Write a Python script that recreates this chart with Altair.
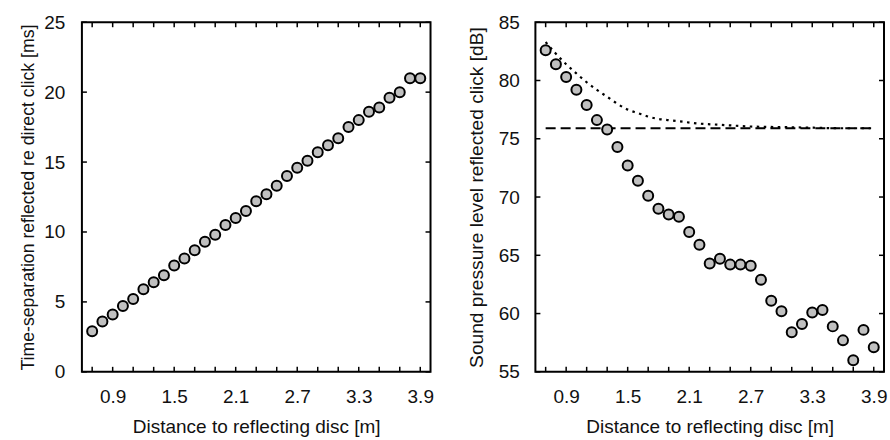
import altair as alt
import pandas as pd

# Measurement distances (m)
distance = [0.7, 0.8, 0.9, 1.0, 1.1, 1.2, 1.3, 1.4, 1.5, 1.6, 1.7, 1.8, 1.9, 2.0, 2.1,
            2.2, 2.3, 2.4, 2.5, 2.6, 2.7, 2.8, 2.9, 3.0, 3.1, 3.2, 3.3, 3.4, 3.5, 3.6,
            3.7, 3.8, 3.9]

# Time separation between reflected and direct click (ms)
time_sep = [2.9, 3.6, 4.1, 4.7, 5.2, 5.9, 6.4, 6.9, 7.6, 8.1, 8.7, 9.3, 9.8, 10.5, 11.0,
            11.5, 12.2, 12.7, 13.3, 14.0, 14.6, 15.1, 15.7, 16.2, 16.7, 17.5, 18.0, 18.6,
            18.9, 19.6, 20.0, 21.0, 21.0]

# Sound pressure level of reflected click (dB)
spl = [82.6, 81.4, 80.3, 79.2, 77.9, 76.6, 75.8, 74.3, 72.7, 71.4, 70.1, 69.0, 68.5, 68.3,
       67.0, 65.9, 64.3, 64.7, 64.2, 64.2, 64.1, 62.9, 61.1, 60.2, 58.4, 59.1, 60.1, 60.3,
       58.9, 57.7, 56.0, 58.6, 57.1]

# Dotted reference curve
curve_x = [0.7, 0.8, 0.9, 1.0, 1.1, 1.2, 1.3, 1.4, 1.5, 1.6, 1.7, 1.8, 1.9, 2.0, 2.2,
           2.4, 2.7, 3.0, 3.3, 3.6, 3.9]
curve_y = [83.3, 82.3, 81.4, 80.6, 79.85, 79.2, 78.6, 78.0, 77.5, 77.2, 76.9, 76.7, 76.6,
           76.5, 76.3, 76.2, 76.05, 76.0, 75.95, 75.9, 75.9]

# Dashed threshold line
thresh_x = [0.7, 3.9]
thresh_y = [75.9, 75.9]

# Axis ticks and labels
x_ticks = [0.7, 0.9, 1.1, 1.3, 1.5, 1.7, 1.9, 2.1, 2.3, 2.5, 2.7, 2.9, 3.1, 3.3, 3.5, 3.7, 3.9]
x_labels = [0.9, 1.5, 2.1, 2.7, 3.3, 3.9]
y_ticks_left = [0, 5, 10, 15, 20, 25]
y_ticks_right = [55, 60, 65, 70, 75, 80, 85]

X_DOMAIN = [0.6, 4.0]
W, H = 349, 350
TICK = 5
FONT = "Liberation Sans"
INK = "#111111"


def frame_ticks(xscale, yscale, yvals):
    xt = pd.DataFrame({"x": x_ticks})
    yt = pd.DataFrame({"y": yvals})
    rule = alt.Chart().mark_rule(color="black", strokeWidth=1.5)
    bottom = rule.encode(x=alt.X("x:Q", scale=xscale), y=alt.value(H), y2=alt.value(H - TICK)).properties(data=xt)
    top = rule.encode(x=alt.X("x:Q", scale=xscale), y=alt.value(0), y2=alt.value(TICK)).properties(data=xt)
    left = rule.encode(y=alt.Y("y:Q", scale=yscale), x=alt.value(0), x2=alt.value(TICK)).properties(data=yt)
    right = rule.encode(y=alt.Y("y:Q", scale=yscale), x=alt.value(W), x2=alt.value(W - TICK)).properties(data=yt)
    return [bottom, top, left, right]


xaxis = alt.Axis(values=x_labels, format=".1f", title="Distance to reflecting disc [m]",
                 grid=False, domain=False, ticks=False, tickSize=0,
                 labelPadding=16, titlePadding=11, titleFontSize=19)

# Left panel
xs = alt.Scale(domain=X_DOMAIN, nice=False, zero=False)
ys_l = alt.Scale(domain=[0, 25], nice=False)
left_df = pd.DataFrame({"distance": distance, "time_sep": time_sep})
left_pts = alt.Chart(left_df).mark_circle(
    size=100, fill="#c0c0c0", stroke="black", strokeWidth=2, opacity=1
).encode(
    x=alt.X("distance:Q", scale=xs, axis=xaxis),
    y=alt.Y("time_sep:Q", scale=ys_l,
            axis=alt.Axis(values=y_ticks_left, title="Time-separation reflected re direct click [ms]",
                          grid=False, domain=False, ticks=False, tickSize=0,
                          labelPadding=17, titlePadding=6, titleFontSize=17.7)),
)
left = alt.layer(left_pts, *frame_ticks(xs, ys_l, y_ticks_left)).properties(width=W, height=H)

# Right panel
ys_r = alt.Scale(domain=[55, 85], nice=False, zero=False)
right_df = pd.DataFrame({"distance": distance, "spl": spl})
curve_df = pd.DataFrame({"distance": curve_x, "spl": curve_y})
thresh_df = pd.DataFrame({"distance": thresh_x, "spl": thresh_y})
yaxis_r = alt.Axis(values=y_ticks_right, title="Sound pressure level reflected click [dB]",
                   grid=False, domain=False, ticks=False, tickSize=0,
                   labelPadding=16, titlePadding=12, titleFontSize=19.2)

dashed = alt.Chart(thresh_df).mark_line(color="black", strokeWidth=2, strokeDash=[10, 5]).encode(
    x=alt.X("distance:Q", scale=xs, axis=xaxis),
    y=alt.Y("spl:Q", scale=ys_r, axis=yaxis_r),
)
dotted = alt.Chart(curve_df).mark_line(color="black", strokeWidth=2.2, strokeDash=[2.5, 4.5],
                                       interpolate="monotone").encode(
    x=alt.X("distance:Q", scale=xs),
    y=alt.Y("spl:Q", scale=ys_r),
)
right_pts = alt.Chart(right_df).mark_circle(
    size=100, fill="#c0c0c0", stroke="black", strokeWidth=2, opacity=1
).encode(
    x=alt.X("distance:Q", scale=xs),
    y=alt.Y("spl:Q", scale=ys_r),
)
right = alt.layer(dashed, dotted, right_pts, *frame_ticks(xs, ys_r, y_ticks_right)).properties(width=W, height=H)

chart = alt.hconcat(left, right, spacing=105, bounds="flush").properties(
    padding={"left": 18, "top": 12, "right": 2, "bottom": 4}
).configure_view(
    stroke="black", strokeWidth=2
).configure_axis(
    labelFont=FONT, titleFont=FONT, labelFontSize=19,
    labelColor=INK, titleColor=INK, titleFontWeight="normal"
)

chart.save("out.html", embed_options={"renderer": "svg", "actions": False})
